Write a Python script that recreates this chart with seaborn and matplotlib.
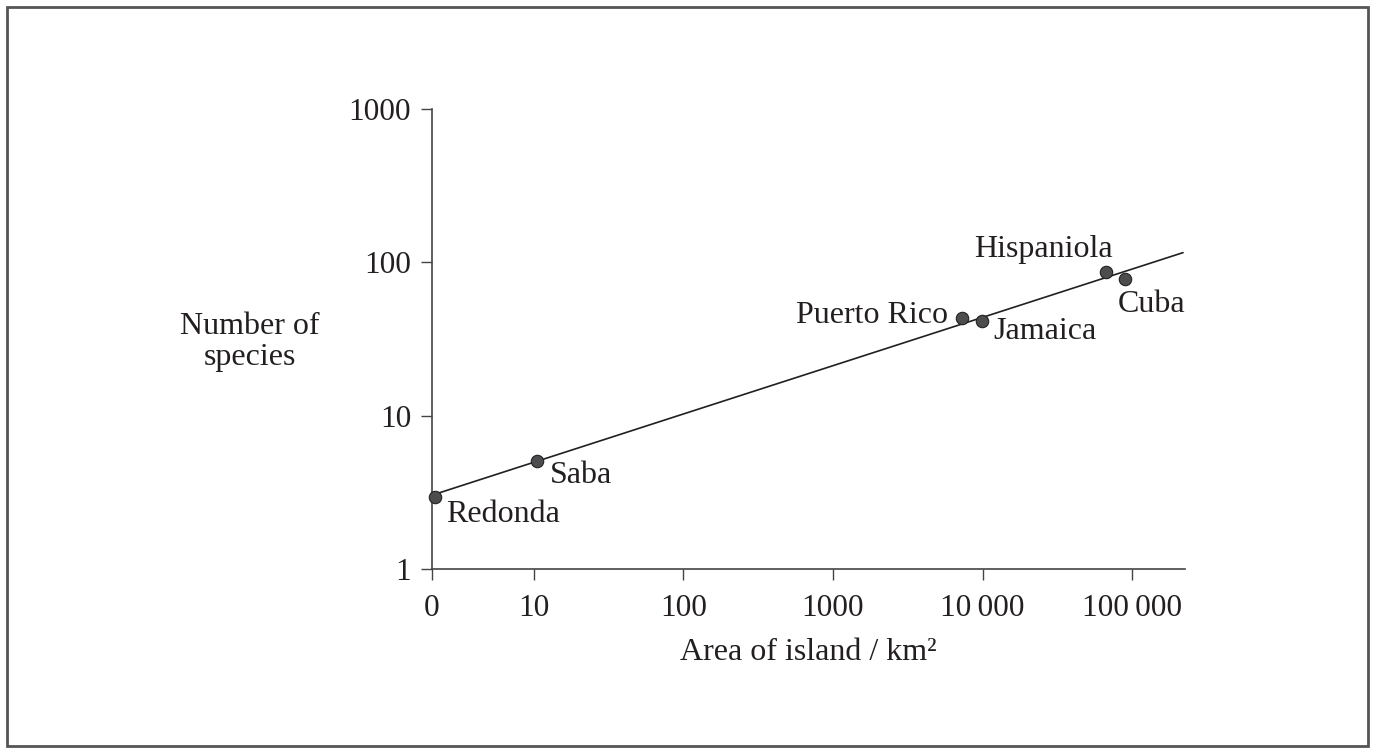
import pandas as pd
import numpy as np
import seaborn as sns
import matplotlib.pyplot as plt
from matplotlib.patches import Rectangle

# island data (area km2, number of species)
islands = ['Redonda', 'Saba', 'Puerto Rico', 'Jamaica', 'Hispaniola', 'Cuba']
area = [2.2, 10.6, 7300, 9950, 66800, 89800]
species = [2.95, 5.1, 43.2, 41.7, 87, 78]

# best-fit line end points
line_x = [2.2, 219000]
line_y = [3.08, 115.7]

x_ticks = [2.09, 10, 100, 1000, 10000, 100000]
x_labels = ['0', '10', '100', '1000', '10\u2009000', '100\u2009000']
y_ticks = [1, 10, 100, 1000]
y_labels = ['1', '10', '100', '1000']

# label offsets in pixels (dx, dy, ha)
offsets = {
    'Redonda': (11, -25, 'left'),
    'Saba': (12, -22, 'left'),
    'Puerto Rico': (-14, -5, 'right'),
    'Jamaica': (11, -18, 'left'),
    'Hispaniola': (7, 15, 'right'),
    'Cuba': (-7, -33, 'left'),
}

df = pd.DataFrame({'island': islands, 'area': area, 'species': species})

sns.set_style('ticks')
plt.rcParams['font.family'] = ['Liberation Serif', 'DejaVu Serif']
ink = '#231f20'

fig = plt.figure(figsize=(13.75, 7.53), dpi=100)
ax = fig.add_axes([432 / 1375, 1 - 569 / 753, (1185 - 432) / 1375, (569 - 109) / 753])

sns.lineplot(x=line_x, y=line_y, ax=ax, color=ink, linewidth=1.2)
sns.scatterplot(data=df, x='area', y='species', ax=ax, s=80, color='#4d4d4f',
                edgecolor='#222222', linewidth=0.8, zorder=3, clip_on=False)

ax.set_xscale('log')
ax.set_yscale('log')
ax.set_xlim(2.09, 225600)
ax.set_ylim(1, 1000)
ax.set_xticks(x_ticks)
ax.set_xticklabels(x_labels)
ax.set_yticks(y_ticks)
ax.set_yticklabels(y_labels)
ax.minorticks_off()
ax.tick_params(axis='both', direction='out', length=8, width=1, color='#444444',
               labelsize=22.5, labelcolor=ink)
ax.tick_params(axis='x', pad=10)
ax.tick_params(axis='y', pad=7)

for side in ['top', 'right']:
    ax.spines[side].set_visible(False)
for side in ['left', 'bottom']:
    ax.spines[side].set_color('#444444')
    ax.spines[side].set_linewidth(1.2)

ax.set_xlabel('Area of island / km²', fontsize=23, color=ink)
ax.xaxis.set_label_coords(0.5, -0.149)
ax.set_ylabel('')
fig.text(249.5 / 1375, 1 - 342 / 753, 'Number of\nspecies', fontsize=23, color=ink,
         ha='center', va='center', linespacing=1.1)

for name, xv, yv in zip(islands, area, species):
    dx, dy, ha = offsets[name]
    ax.annotate(name, (xv, yv), xytext=(dx, dy), textcoords='offset pixels',
                ha=ha, va='baseline', fontsize=23, color=ink)

fig.add_artist(Rectangle((7 / 1375, 7 / 753), 1361 / 1375, 739 / 753, transform=fig.transFigure,
                         fill=False, edgecolor='#555555', linewidth=2))

fig.savefig('out.png', dpi=100, facecolor='white')
